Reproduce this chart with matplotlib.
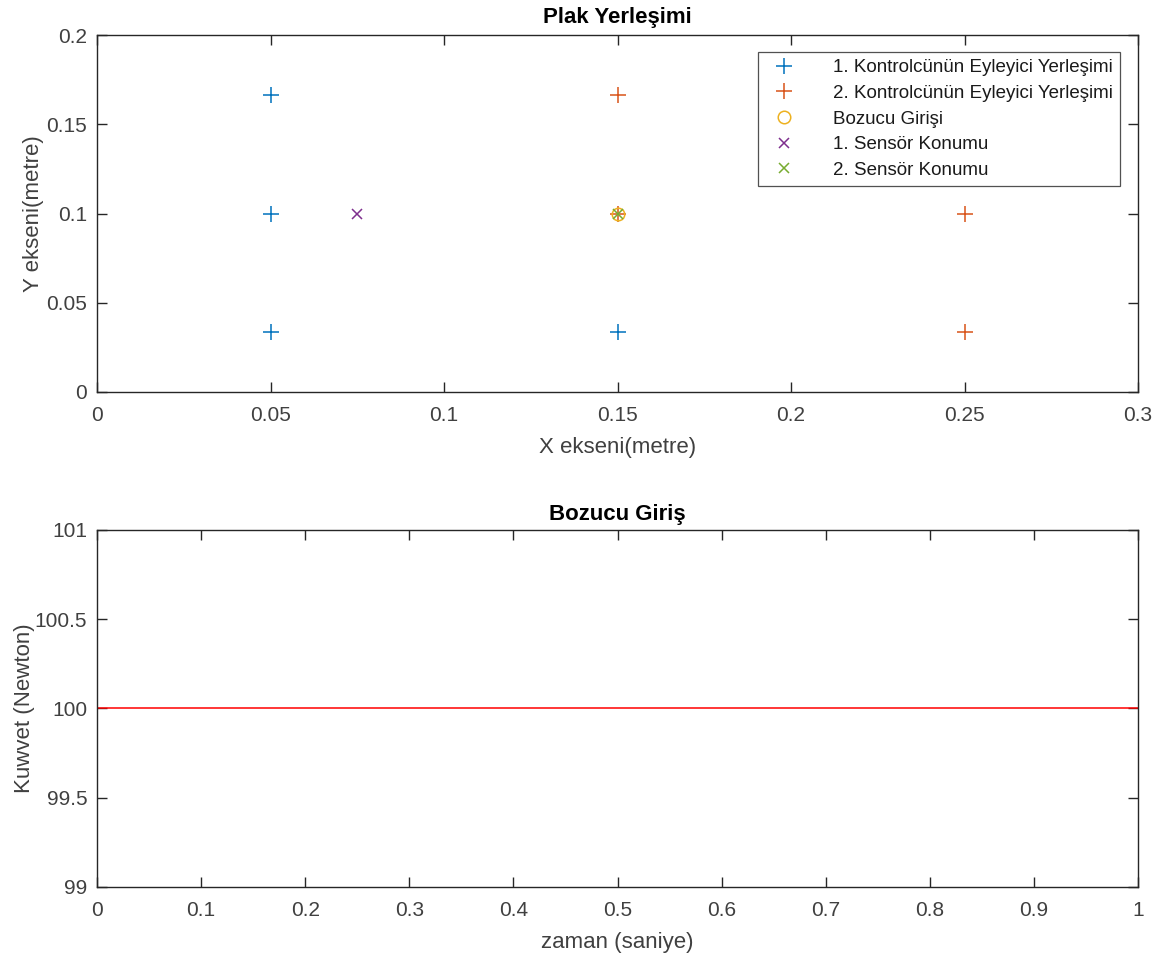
import matplotlib
matplotlib.use("Agg")
import matplotlib.pyplot as plt
import numpy as np

plt.rcParams['font.family'] = ['Liberation Sans', 'DejaVu Sans']

# Actuator / sensor placement on the plate (metres)
act1_x = [0.05, 0.05, 0.05, 0.15]
act1_y = [1/6, 0.1, 1/30, 1/30]
act2_x = [0.15, 0.15, 0.25, 0.25]
act2_y = [1/6, 0.1, 0.1, 1/30]
dist_x = [0.15]
dist_y = [0.1]
sens1_x = [0.075]
sens1_y = [0.1]
sens2_x = [0.15]
sens2_y = [0.1]

legend_labels = ["1. Kontrolcünün Eyleyici Yerleşimi",
                 "2. Kontrolcünün Eyleyici Yerleşimi",
                 "Bozucu Girişi",
                 "1. Sensör Konumu",
                 "2. Sensör Konumu"]

# Disturbance force over time
t = [0.0, 1.0]
force = [100.0, 100.0]

c_blue = "#0072BD"
c_orange = "#D95319"
c_yellow = "#EDB120"
c_purple = "#7E2F8E"
c_green = "#77AC30"
c_axis = "#262626"
c_text = "#404040"

fig = plt.figure(figsize=(11.72, 9.57), dpi=100)
ax1 = fig.add_axes([0.0828, 0.5904, 0.8882, 0.373])
ax2 = fig.add_axes([0.0828, 0.0732, 0.8882, 0.373])

ms = 11
ax1.plot(act1_x, act1_y, '+', color=c_blue, ms=ms, mew=1.1, label=legend_labels[0])
ax1.plot(act2_x, act2_y, '+', color=c_orange, ms=ms, mew=1.1, label=legend_labels[1])
ax1.plot(dist_x, dist_y, 'o', color=c_yellow, ms=9, mew=1.1, mfc='none', label=legend_labels[2])
ax1.plot(sens1_x, sens1_y, 'x', color=c_purple, ms=7, mew=1.1, label=legend_labels[3])
ax1.plot(sens2_x, sens2_y, 'x', color=c_green, ms=7, mew=1.1, label=legend_labels[4])

ax1.set_xlim(0, 0.3)
ax1.set_ylim(0, 0.2)
ax1.set_xticks(np.arange(0, 0.31, 0.05))
ax1.set_xticklabels(["0", "0.05", "0.1", "0.15", "0.2", "0.25", "0.3"])
ax1.set_yticks([0, 0.05, 0.1, 0.15, 0.2])
ax1.set_yticklabels(["0", "0.05", "0.1", "0.15", "0.2"])
ax1.set_title("Plak Yerleşimi", fontsize=16, fontweight='bold', pad=9, color='black')
ax1.set_xlabel("X ekseni(metre)", fontsize=16, color=c_text, labelpad=9)
ax1.set_ylabel("Y ekseni(metre)", fontsize=16, color=c_text, labelpad=2)
leg = ax1.legend(loc='upper right', fontsize=13.5, frameon=True, fancybox=False,
                 edgecolor=c_axis, bbox_to_anchor=(0.983, 0.953), borderaxespad=0,
                 handletextpad=1.6, labelspacing=0.45, borderpad=0.4,
                 handlelength=2.0)
leg.get_frame().set_linewidth(0.9)
for txt in leg.get_texts():
    txt.set_color('#1a1a1a')

ax2.plot(t, force, color='red', lw=1.1)
ax2.set_xlim(0, 1)
ax2.set_ylim(99, 101)
ax2.set_xticks(np.arange(0, 1.01, 0.1))
ax2.set_xticklabels(["0", "0.1", "0.2", "0.3", "0.4", "0.5", "0.6", "0.7", "0.8", "0.9", "1"])
ax2.set_yticks([99, 99.5, 100, 100.5, 101])
ax2.set_yticklabels(["99", "99.5", "100", "100.5", "101"])
ax2.set_title("Bozucu Giriş", fontsize=16, fontweight='bold', pad=7, color='black')
ax2.set_xlabel("zaman (saniye)", fontsize=16, color=c_text, labelpad=9)
ax2.set_ylabel("Kuwvet (Newton)", fontsize=16, color=c_text, labelpad=0)

for ax in (ax1, ax2):
    for s in ax.spines.values():
        s.set_color(c_axis)
        s.set_linewidth(1.0)
    ax.tick_params(direction='in', top=True, right=True, length=7, width=1.0,
                   labelsize=15, colors=c_axis, labelcolor=c_text, pad=7)
    ax.tick_params(axis='x', pad=10)

fig.savefig("out.png", dpi=100)
